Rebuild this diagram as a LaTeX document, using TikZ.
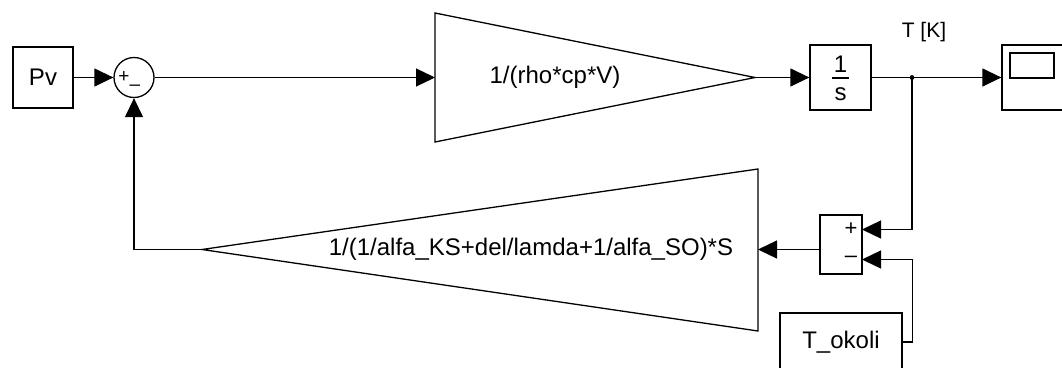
\documentclass[tikz,border=0pt]{standalone}
\usepackage{fontspec}
\setmainfont{Liberation Sans}
\usetikzlibrary{arrows.meta}
\tikzset{
  blk/.style={draw, line width=1.3pt, inner sep=0pt},
  lbl/.style={font=\fontsize{24}{28}\selectfont, inner sep=0pt},
  sgn/.style={font=\fontsize{22}{24}\selectfont, inner sep=0pt},
  sig/.style={line width=1.3pt, -{Triangle[length=19pt,width=18pt]}},
  wire/.style={line width=1.3pt},
}
\begin{document}
\begin{tikzpicture}[x=1pt, y=-1pt]
\useasboundingbox (0,0) rectangle (1062,367);

\node [blk, lbl, minimum width=60pt, minimum height=61pt] (pv) at (43,77.5) {Pv};
\node [blk, circle, minimum size=40pt] (sum1) at (134,77.5) {};
\node [sgn, font=\fontsize{19}{21}\selectfont] (sum1plus) at (124,77) {+};
\node [sgn, font=\fontsize{19}{21}\selectfont] (sum1minus) at (135,88) {--};

\coordinate (g1in) at (435,77.5);
\coordinate (g1out) at (755,77.5);
\draw [wire] (435,13) -- (g1out) -- (435,142) -- cycle;
\node [lbl] (g1) at (555,77.5) {1/(rho*cp*V)};

\node [blk, minimum width=61pt, minimum height=65pt] (integ) at (840.5,77.5) {};
\node [lbl, anchor=base] (integnum) at (840.5,72) {1};
\node [lbl, anchor=base] (integden) at (840.5,100) {s};
\draw [wire] (832,78) -- (849,78);

\node [blk, minimum width=66pt, minimum height=65pt] (scope) at (1035,77.5) {};
\draw [wire] (1010,53) rectangle (1054,78);

\coordinate (branch) at (912,77.5);
\fill (branch) circle (2.4pt);
\node [lbl, font=\fontsize{21}{24}\selectfont] (tk) at (924,32) {T [K]};

\node [blk, minimum width=42pt, minimum height=59pt] (sum2) at (841,244.5) {};
\coordinate (sum2plus) at (862,229.5);
\coordinate (sum2minus) at (862,259.5);
\node [sgn] (sum2p) at (851,229.5) {+};
\node [sgn] (sum2m) at (851,259.5) {--};

\node [blk, lbl, minimum width=122pt, minimum height=58pt] (okoli) at (841,342) {T\_okoli};

\coordinate (g2in) at (758,249.5);
\coordinate (g2out) at (202,249.5);
\draw [wire] (758,169) -- (g2out) -- (758,331) -- cycle;
\node [lbl] (g2) at (531,249.5) {1/(1/alfa\_KS+del/lamda+1/alfa\_SO)*S};

\draw [sig] (pv) to (sum1);
\draw [sig] (sum1) to (g1in);
\draw [sig] (g1out) to (integ);
\draw [sig] (integ) to (scope);
\draw [sig] (branch) |- (sum2plus);
\draw [sig] (okoli.east) -- ++(10,0) |- (sum2minus);
\draw [sig] (sum2.west |- g2in) to (g2in);
\draw [sig] (g2out) -| (sum1.south);
\end{tikzpicture}
\end{document}
